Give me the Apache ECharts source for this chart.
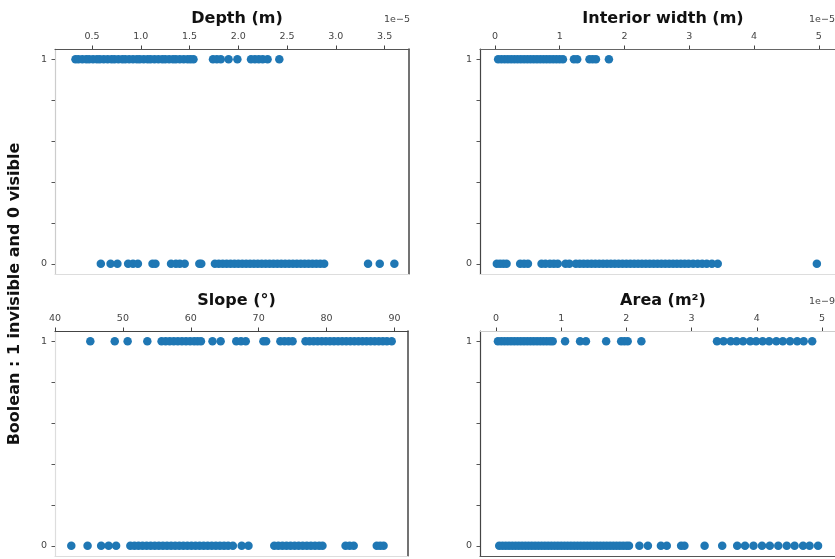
<!DOCTYPE html>
<html>
<head>
<meta charset="utf-8">
<script src="https://cdn.jsdelivr.net/npm/echarts@6/dist/echarts.min.js"></script>
<style>html,body{margin:0;padding:0;background:#fff}#c{width:835px;height:559px}</style>
</head>
<body>
<div id="c"></div>
<script>
// ---- data (x in axis units; y: 1 = invisible, 0 = visible) ----
var depthInvisible = [0.33,0.36,0.40,0.44,0.47,0.51,0.55,0.58,0.62,0.66,0.70,0.73,0.77,0.81,0.84,0.88,0.92,0.96,0.99,1.03,1.07,1.10,1.14,1.18,1.22,1.25,1.29,1.33,1.36,1.40,1.44,1.48,1.51,1.54,
  1.74,1.78,1.82,1.90,1.99,2.13,2.17,2.21,2.25,2.30,2.42];
var depthVisible = [0.59,0.69,0.76,0.87,0.92,0.97,1.12,1.15,1.31,1.36,1.40,1.45,1.60,1.62,
  1.76,1.80,1.84,1.88,1.92,1.96,2.00,2.04,2.08,2.12,2.16,2.20,2.24,2.28,2.32,2.36,2.40,2.44,2.48,2.52,2.56,2.60,2.64,2.68,2.72,2.76,2.80,2.84,2.88,
  3.33,3.45,3.60];
var widthInvisible = [0.05,0.10,0.15,0.20,0.25,0.30,0.35,0.40,0.45,0.50,0.55,0.60,0.65,0.70,0.75,0.80,0.85,0.90,0.95,1.00,1.05,
  1.22,1.27,1.46,1.51,1.56,1.76];
var widthVisible = [0.03,0.08,0.13,0.18,0.39,0.45,0.51,0.72,0.78,0.85,0.91,0.97,1.09,1.15,1.25,1.31,1.37,1.43,1.49,1.55,1.61,1.67,1.73,1.79,1.85,1.91,1.97,2.03,2.09,2.15,2.21,2.27,2.33,2.39,2.45,2.51,2.57,2.63,2.69,2.75,2.81,2.87,2.93,2.99,3.06,3.13,3.20,3.27,3.35,3.44,
  4.97];
var slopeInvisible = [45.2,48.8,50.7,53.6,55.7,56.3,56.9,57.5,58.1,58.7,59.3,59.9,60.5,61.0,61.5,63.2,64.4,66.7,67.4,68.1,70.7,71.1,73.2,73.8,74.4,75.0,
  76.9,77.5,78.1,78.7,79.3,79.9,80.5,81.1,81.7,82.3,82.9,83.5,84.1,84.7,85.3,85.9,86.5,87.1,87.7,88.3,88.9,89.6];
var slopeVisible = [42.4,44.8,46.8,47.9,49.0,51.1,51.7,52.3,52.9,53.5,54.1,54.7,55.3,55.9,56.5,57.1,57.7,58.3,58.9,59.5,60.1,60.7,61.3,61.9,62.5,63.1,63.7,64.3,64.9,65.5,66.2,67.5,68.5,
  72.3,72.9,73.5,74.1,74.7,75.3,75.9,76.5,77.1,77.7,78.3,78.9,79.4,82.8,83.4,84.0,87.4,87.9,88.4];
var areaInvisible = [0.03,0.08,0.13,0.18,0.23,0.28,0.33,0.38,0.43,0.48,0.53,0.58,0.63,0.68,0.73,0.78,0.83,0.87,
  1.06,1.29,1.38,1.69,1.92,1.97,2.02,2.23,
  3.39,3.49,3.60,3.69,3.79,3.90,3.99,4.09,4.19,4.30,4.40,4.51,4.62,4.72,4.85];
var areaVisible = [0.05,0.10,0.15,0.20,0.25,0.30,0.35,0.40,0.45,0.50,0.55,0.60,0.65,0.70,0.75,0.80,0.85,0.90,0.95,1.00,1.05,1.10,1.15,1.20,1.25,1.30,1.35,1.40,1.45,1.50,1.55,1.60,1.65,1.70,1.75,1.80,1.85,1.90,1.95,2.00,2.04,
  2.20,2.33,2.53,2.62,2.84,2.89,3.20,3.47,3.70,3.82,3.95,4.08,4.20,4.33,4.46,4.58,4.71,4.81,4.94];

var titles = ['Depth (m)', 'Interior width (m)', 'Slope (°)', 'Area (m²)'];
var depthTicks = [0.5,1.0,1.5,2.0,2.5,3.0,3.5];
var widthTicks = [0,1,2,3,4,5];
var slopeTicks = [40,50,60,70,80,90];
var areaTicks = [0,1,2,3,4,5];
var yTicks = [0,0.2,0.4,0.6,0.8,1.0];
var yLabels = [0,1];
var offsetTexts = ['1e\u22125','1e\u22125','','1e\u22129'];

// ---- layout ----
var grids = [
  {left:55, top:49, width:354, height:225},
  {left:480, top:49, width:356, height:225},
  {left:55, top:331, width:353, height:225},
  {left:480, top:331, width:356, height:225}
];
var ranges = [[0.12,3.75],[-0.23,5.25],[40,92],[-0.245,5.2]];
var ticks = [depthTicks, widthTicks, slopeTicks, areaTicks];
var fmts = [function(v){return v.toFixed(1);}, function(v){return String(v);}, function(v){return String(v);}, function(v){return String(v);}];
// spine colors per panel: [top, bottom, left, right]
var spines = [
  ['#555','#ddd','#ccc','#444'],
  ['#666','#ddd','#444',null],
  ['#444','#ddd','#ddd','#444'],
  ['#ccc','#555','#444',null]
];
var seriesData = [[depthInvisible, depthVisible],[widthInvisible, widthVisible],[slopeInvisible, slopeVisible],[areaInvisible, areaVisible]];

var xAxes = [], yAxes = [], series = [], titleOpts = [], graphics = [];
for (var i = 0; i < 4; i++) {
  var sp = spines[i];
  xAxes.push({
    gridIndex:i, type:'value', position:'top', min:ranges[i][0], max:ranges[i][1],
    splitLine:{show:false},
    axisLine:{show:true, onZero:false, lineStyle:{color:sp[0], width:1.2}},
    axisTick:{show:true, length:3.5, customValues:ticks[i], lineStyle:{color:'#444', width:1}},
    axisLabel:{show:true, customValues:ticks[i], formatter:fmts[i], margin:7, fontSize:9.5, color:'#444', fontFamily:'DejaVu Sans'}
  });
  xAxes.push({
    gridIndex:i, type:'value', position:'bottom', min:ranges[i][0], max:ranges[i][1],
    splitLine:{show:false}, axisTick:{show:false}, axisLabel:{show:false},
    axisLine:{show:true, onZero:false, lineStyle:{color:sp[1], width:1.2}}
  });
  yAxes.push({
    gridIndex:i, type:'value', position:'left', min:-0.05, max:1.05,
    splitLine:{show:false},
    axisLine:{show:true, onZero:false, lineStyle:{color:sp[2], width:1.2}},
    axisTick:{show:true, length:3.5, customValues:yTicks, lineStyle:{color:'#555', width:1}},
    axisLabel:{show:true, customValues:yLabels, margin:8, fontSize:9.5, color:'#444', fontFamily:'DejaVu Sans'}
  });
  yAxes.push({
    gridIndex:i, type:'value', position:'right', min:-0.05, max:1.05,
    splitLine:{show:false}, axisTick:{show:false}, axisLabel:{show:false},
    axisLine:{show:sp[3] !== null, onZero:false, lineStyle:{color:sp[3] || '#fff', width:1.5}}
  });
  var inv = seriesData[i][0].map(function(v){return [v,1];});
  var vis = seriesData[i][1].map(function(v){return [v,0];});
  series.push({
    type:'scatter', xAxisIndex:2*i, yAxisIndex:2*i, data:inv.concat(vis),
    symbol:'circle', symbolSize:8.5, itemStyle:{color:'#1f77b4', opacity:1}, silent:true
  });
  var g = grids[i];
  titleOpts.push({
    text:titles[i], left:g.left + g.width/2, top:g.top - 43, textAlign:'center',
    textStyle:{fontSize:16, fontWeight:'bold', color:'#111', fontFamily:'DejaVu Sans'}
  });
  if (offsetTexts[i]) {
    graphics.push({type:'text', x:g.left + 342, y:g.top - 29,
      style:{text:offsetTexts[i], fontSize:9.5, fill:'#444', fontFamily:'DejaVu Sans', textAlign:'center', textVerticalAlign:'middle'}});
  }
}
graphics.push({
  type:'text', x:15, y:294, rotation:Math.PI/2,
  style:{text:'Boolean : 1 invisible and 0 visible', font:'bold 16px "DejaVu Sans"', fill:'#111', textAlign:'center', textVerticalAlign:'middle'}
});

var chart = echarts.init(document.getElementById('c'), null, {renderer:'canvas'});
chart.setOption({
  animation:false,
  backgroundColor:'#fff',
  title:titleOpts,
  grid:grids,
  xAxis:xAxes,
  yAxis:yAxes,
  series:series,
  graphic:graphics
});
</script>
</body>
</html>
